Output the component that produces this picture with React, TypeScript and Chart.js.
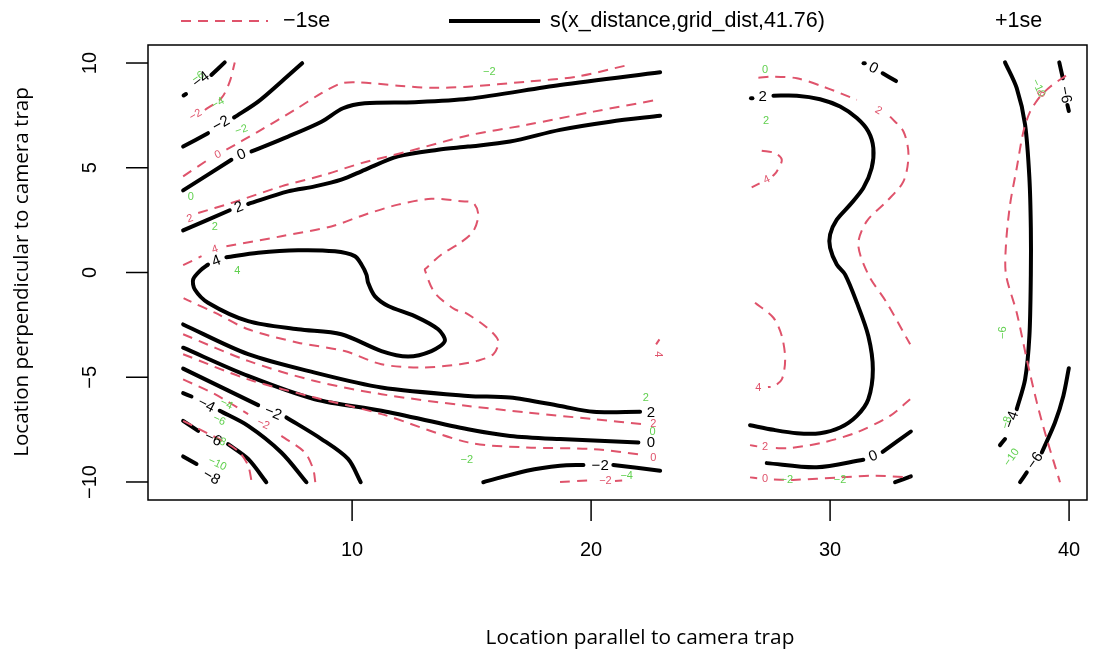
import React, { useEffect, useRef } from "react";
import { Chart, registerables } from "chart.js";

Chart.register(...registerables);

type Pt = [number, number];
// x, y, text, rotation (deg)
type Lbl = [number, number, string, number];

const xTicks = [10, 20, 30, 40];
const yTicks = [-10, -5, 0, 5, 10];
const xRange = [1.46, 40.75];
const yRange = [-10.86, 10.86];

const legendItems = ["\u22121se", "s(x_distance,grid_dist,41.76)", "+1se"];
const xTitle = "Location parallel to camera trap";
const yTitle = "Location perpendicular to camera trap";

// ---- estimate (black, solid) contours: left block x 3..23 ----
const fitLeftUpper: Pt[][] = [
  [[2.95, 8.45], [3.05, 8.52]],
  [[4.11, 9.43], [4.67, 10.03]],
  [[2.93, 6.01], [3.97, 6.65]],
  [[5.06, 7.4], [6.07, 8.16], [7.04, 9.11], [7.91, 9.99]],
  [[2.93, 3.92], [4.95, 5.38]],
  [[5.79, 5.78], [7.32, 6.49], [8.72, 7.2], [9.62, 7.84], [10.53, 8.08], [12.62, 8.13], [14.85, 8.29], [18.7, 8.95], [22.89, 9.56]],
  [[2.93, 2.01], [4.88, 2.97]],
  [[5.65, 3.27], [7.32, 3.87], [8.44, 4.11], [9.55, 4.43], [10.53, 4.9], [11.92, 5.54], [13.6, 5.86], [14.85, 6.01], [16.61, 6.25], [18.7, 6.81], [20.8, 7.2], [22.89, 7.48]],
];
const fitLeftLoop: Pt[] = [
  [4.74, 0.73], [6.07, 0.94], [7.74, 1.06], [9.28, 1.01], [10.11, 0.78], [10.39, 0.38], [10.6, -0.1], [10.67, -0.49],
  [10.95, -1.13], [11.51, -1.6], [12.62, -2.08], [13.6, -2.71], [13.88, -3.27], [13.32, -3.75], [12.34, -4.01],
  [11.23, -3.75], [9.55, -2.95], [7.74, -2.71], [5.65, -2.32], [3.97, -1.44], [3.42, -0.81], [3.35, -0.33],
  [3.69, 0.14], [3.97, 0.38],
];
const fitLeftLower: Pt[][] = [
  [[2.93, -2.48], [5.65, -3.9], [8.44, -4.78], [11.23, -5.49], [14.85, -5.89], [16.61, -5.97], [18.7, -6.37], [20.1, -6.65], [22.05, -6.65]],
  [[2.93, -3.59], [5.65, -4.94], [8.44, -6.05], [11.23, -6.6], [14.85, -7.48], [16.61, -7.8], [18.7, -7.95], [21.98, -8.11]],
  [[2.93, -4.59], [6.07, -6.33]],
  [[7.25, -6.92], [8.72, -7.95], [9.83, -8.9], [10.36, -10.01]],
  [[2.93, -5.76], [3.28, -5.92]],
  [[4.46, -6.6], [5.65, -7.32], [7.04, -8.59], [8.09, -10.01]],
  [[2.93, -7.08], [3.56, -7.56]],
  [[4.81, -8.19], [5.65, -8.9], [6.41, -10.01]],
  [[2.93, -8.78], [3.49, -9.14]],
  [[15.49, -10.01], [17.31, -9.46], [18.7, -9.22], [19.68, -9.19]],
  [[20.93, -9.19], [22.89, -9.46]],
];
// ---- estimate contours: middle block x 27..33.4 ----
const fitMiddle: Pt[][] = [
  [[26.69, 8.32], [26.75, 8.32]],
  [[27.63, 8.44], [28.61, 8.44], [29.58, 8.27], [30.42, 7.92], [31.12, 7.37], [31.6, 6.73], [31.81, 5.94], [31.74, 4.99],
   [31.39, 4.03], [30.84, 3.24], [30.28, 2.52], [30.0, 1.81], [30.0, 1.18], [30.28, 0.38], [30.63, -0.1], [31.12, -1.44],
   [31.6, -3.03], [31.79, -4.62], [31.6, -6.05], [31.12, -6.84], [30.42, -7.4], [29.58, -7.67], [28.61, -7.67],
   [27.63, -7.51], [26.65, -7.29]],
  [[31.4, 9.99], [31.45, 9.99]],
  [[32.2, 9.51], [32.76, 9.14]],
  [[27.35, -9.1], [29.44, -9.3], [31.39, -8.94]],
  [[32.2, -8.56], [33.38, -7.59]],
  [[32.72, -10.01], [33.38, -9.73]],
];
// ---- estimate contours: right block x 37..40 ----
const fitRight: Pt[][] = [
  [[37.32, 10.03], [37.81, 8.8], [38.16, 7.05], [38.34, 4.51], [38.4, 2.13], [38.4, -0.1], [38.34, -3.03], [38.16, -5.1], [37.81, -6.52]],
  [[37.32, -7.95], [37.11, -8.24]],
  [[39.59, 10.03], [39.74, 9.27]],
  [[39.93, 8.0], [39.99, 7.71]],
  [[39.99, -4.57], [39.76, -5.89], [39.41, -7.16], [38.86, -8.59]],
  [[38.23, -9.54], [37.95, -10.01]],
];

// ---- -1se (red, dashed) contours ----
const seLeft: Pt[][] = [
  [[3.84, 7.76], [4.53, 8.32], [4.88, 9.11], [5.09, 10.03]],
  [[2.93, 4.59], [3.97, 5.38]],
  [[4.74, 5.86], [6.07, 6.73], [7.6, 7.76], [8.72, 8.56], [9.55, 9.03], [10.25, 9.08], [11.92, 8.92], [13.32, 8.82], [14.85, 8.87], [17.31, 9.11], [19.4, 9.35], [21.42, 9.87]],
  [[3.56, 2.84], [4.95, 3.32], [7.04, 4.11], [8.86, 4.67], [10.39, 5.22], [12.34, 5.78], [14.85, 6.54], [17.31, 7.05], [20.1, 7.68], [22.75, 8.24]],
  [[2.93, 0.35], [3.7, 0.78]],
  [[4.74, 1.25], [7.04, 1.73], [9.13, 2.2], [10.53, 2.76], [11.92, 3.24], [13.32, 3.52], [14.57, 3.4], [15.07, 3.32], [15.28, 2.76],
   [15.07, 1.97], [14.52, 1.41], [13.74, 0.86], [13.11, 0.22], [13.04, 0.14], [13.46, -0.97], [14.3, -1.76], [14.73, -1.92],
   [15.64, -2.63], [16.12, -3.27], [15.91, -3.9], [15.22, -4.22], [14.52, -4.38], [12.9, -4.54], [11.23, -4.38], [9.69, -3.75],
   [7.74, -3.35], [5.65, -2.71], [4.26, -1.92], [3.21, -1.37], [2.95, -1.22]],
  [[2.93, -2.95], [5.65, -4.22], [8.44, -5.18], [11.23, -5.81], [14.85, -6.37], [17.31, -6.68], [20.1, -7.0], [22.19, -7.24]],
  [[2.93, -3.9], [5.65, -5.1], [8.44, -5.97], [11.23, -6.76], [14.85, -8.11], [17.31, -8.35], [20.1, -8.43], [22.19, -8.71]],
  [[2.93, -5.1], [4.26, -5.81], [5.65, -6.76]],
  [[7.04, -7.8], [8.02, -8.59], [8.37, -9.38], [8.46, -10.01]],
  [[2.93, -7.08], [3.56, -7.45], [4.81, -8.19], [5.3, -8.6], [5.65, -9.22], [5.8, -10.01]],
  [[18.7, -10.0], [19.9, -9.92]],
  [[21.0, -9.95], [21.3, -9.93]],
  [[22.86, -3.19], [22.72, -3.43]],
];
const seMiddle: Pt[][] = [
  [[27.0, 9.3], [27.63, 9.35], [28.61, 9.27], [29.72, 8.87], [31.12, 8.24]],
  [[32.51, 7.44], [33.07, 6.73], [33.28, 5.62], [33.07, 4.35], [32.37, 3.4], [31.53, 2.44], [31.18, 1.33], [31.6, -0.1], [32.37, -1.44], [33.35, -3.43]],
  [[33.35, -6.05], [32.51, -6.84], [31.12, -7.63], [29.72, -8.11], [28.33, -8.38], [27.63, -8.38]],
  [[26.65, -8.24], [26.95, -8.3]],
  [[26.65, -9.78], [26.95, -9.82]],
  [[27.65, -9.88], [28.46, -9.9], [30.42, -9.78], [31.81, -9.7], [33.35, -9.78]],
  [[27.14, 5.81], [27.7, 5.7], [27.98, 5.38], [27.77, 4.82], [27.6, 4.6]],
  [[27.05, 4.25], [26.72, 4.06]],
  [[26.86, -1.44], [27.63, -2.16], [27.98, -3.03], [28.12, -4.14], [27.98, -5.1], [27.63, -5.44], [27.4, -5.47]],
];
const seRight: Pt[][] = [
  [[39.87, 9.4], [39.21, 8.87], [38.79, 8.4], [38.37, 7.68], [38.09, 6.73], [37.81, 4.99], [37.53, 3.24], [37.36, 1.33],
   [37.36, -0.1], [37.81, -1.92], [38.23, -4.14], [38.65, -6.2], [39.07, -7.95], [39.62, -10.01]],
];

// ---- contour labels ----
const fitLabels: Lbl[] = [
  [3.68, 9.2, "\u22124", -37], [4.52, 7.1, "\u22122", -30], [5.37, 5.62, "0", -22], [5.26, 3.11, "2", -21],
  [4.32, 0.54, "4", -21], [3.9, -6.33, "\u22124", 27], [6.69, -6.71, "\u22122", 23], [4.18, -7.95, "\u22126", 25],
  [4.11, -9.78, "\u22128", 30], [22.5, -6.68, "2", 0], [22.5, -8.14, "0", 0], [20.38, -9.22, "\u22122", 0],
  [27.18, 8.37, "2", 0], [31.81, 9.75, "0", 28], [31.81, -8.78, "0", -22], [39.83, 8.48, "\u22126", 80],
  [37.6, -7.03, "\u22124", -70], [38.58, -8.99, "\u22126", -55],
];
const seLabels: Lbl[] = [
  [3.45, 7.52, "\u22122", -30], [4.39, 5.62, "0", -25], [3.22, 2.57, "2", -18], [4.26, 1.1, "4", -18],
  [6.28, -7.24, "\u22122", 25], [22.6, -7.24, "2", 0], [22.6, -8.83, "0", 0], [20.6, -9.97, "\u22122", 0],
  [22.82, -3.9, "4", 90], [32.02, 7.73, "2", 30], [27.28, -8.35, "2", 0], [27.28, -9.86, "0", 0],
  [27.35, 4.43, "4", -25], [27.0, -5.49, "4", 0], [38.79, 8.4, "\u22128", -60],
];
const plusSeLabels: Lbl[] = [
  [3.56, 9.32, "\u22126", -35], [4.39, 8.08, "\u22124", -30], [5.37, 6.81, "\u22122", -20], [3.25, 3.59, "0", 0],
  [4.26, 2.16, "2", 0], [5.2, 0.06, "4", 0], [15.74, 9.59, "\u22122", 0], [27.28, 9.67, "0", 0], [27.32, 7.24, "2", 0],
  [38.72, 8.8, "\u221210", 65], [4.74, -6.29, "\u22124", 25], [4.44, -7.05, "\u22126", 25], [4.46, -8.03, "\u22128", 25],
  [4.36, -9.14, "\u221210", 25], [14.8, -8.94, "\u22122", 0], [22.29, -6.01, "2", 0], [22.57, -7.63, "0", 0],
  [21.49, -9.73, "\u22124", 0], [28.19, -9.89, "\u22122", 0], [30.42, -9.89, "\u22122", 0], [37.25, -2.87, "\u22126", -90],
  [37.39, -7.16, "\u22128", -75], [37.6, -8.83, "\u221210", -55],
];

const BLACK = "#000000";
const RED = "#DF536B";
const GREEN = "#61D04F";
const FONT = '"Liberation Sans", Arial, Helvetica, sans-serif';
const TITLE_FONT = '"Open Sans", "Noto Sans", sans-serif';

function toData(seg: Pt[]) {
  return seg.map(([x, y]) => ({ x, y }));
}

function fitFont(ctx: CanvasRenderingContext2D, text: string, family: string, width: number) {
  ctx.font = `20px ${family}`;
  const w = ctx.measureText(text).width || 1;
  ctx.font = `${(20 * width) / w}px ${family}`;
}

export default function App() {
  const ref = useRef<HTMLCanvasElement | null>(null);

  useEffect(() => {
    if (!ref.current) return;
    const fitSegs = [...fitLeftUpper, fitLeftLoop, ...fitLeftLower, ...fitMiddle, ...fitRight];
    const seSegs = [...seLeft, ...seMiddle, ...seRight];
    const datasets: any[] = [];
    seSegs.forEach((s) =>
      datasets.push({
        data: toData(s),
        showLine: true,
        borderColor: RED,
        borderWidth: 2,
        borderDash: [10, 7],
        pointRadius: 0,
        tension: 0.3,
        fill: false,
      })
    );
    fitSegs.forEach((s) =>
      datasets.push({
        data: toData(s),
        showLine: true,
        borderColor: BLACK,
        borderWidth: 4,
        borderCapStyle: "round",
        borderJoinStyle: "round",
        pointRadius: 0,
        tension: 0.3,
        fill: false,
      })
    );

    const overlay = {
      id: "overlay",
      afterDatasetsDraw(chart: any) {
        const { ctx, scales } = chart;
        const xs = scales.x;
        const ys = scales.y;
        const drawLabels = (list: Lbl[], color: string, size: number) => {
          ctx.save();
          ctx.fillStyle = color;
          ctx.font = `${size}px ${FONT}`;
          ctx.textAlign = "center";
          ctx.textBaseline = "middle";
          list.forEach(([x, y, t, r]) => {
            ctx.save();
            ctx.translate(xs.getPixelForValue(x), ys.getPixelForValue(y));
            ctx.rotate((r * Math.PI) / 180);
            ctx.fillText(t, 0, 0);
            ctx.restore();
          });
          ctx.restore();
        };
        drawLabels(plusSeLabels, GREEN, 11);
        drawLabels(seLabels, RED, 11);
        drawLabels(fitLabels, BLACK, 15);
      },
      afterDraw(chart: any) {
        const { ctx, chartArea: a, scales } = chart;
        const xs = scales.x;
        const ys = scales.y;
        ctx.save();
        ctx.strokeStyle = BLACK;
        ctx.lineWidth = 1.5;
        ctx.setLineDash([]);
        ctx.strokeRect(a.left, a.top, a.right - a.left, a.bottom - a.top);
        ctx.fillStyle = BLACK;
        ctx.font = `20px ${FONT}`;
        ctx.textAlign = "center";
        ctx.textBaseline = "middle";
        xTicks.forEach((v) => {
          const px = xs.getPixelForValue(v);
          ctx.beginPath();
          ctx.moveTo(px, a.bottom);
          ctx.lineTo(px, a.bottom + 21);
          ctx.stroke();
          ctx.fillText(String(v), px, 550);
        });
        yTicks.forEach((v) => {
          const py = ys.getPixelForValue(v);
          ctx.beginPath();
          ctx.moveTo(a.left - 22, py);
          ctx.lineTo(a.left, py);
          ctx.stroke();
          ctx.save();
          ctx.translate(90, py);
          ctx.rotate(-Math.PI / 2);
          ctx.fillText(v < 0 ? "\u2212" + Math.abs(v) : String(v), 0, 0);
          ctx.restore();
        });
        // axis titles
        fitFont(ctx, xTitle, TITLE_FONT, 309);
        ctx.fillText(xTitle, 640, 638);
        ctx.save();
        fitFont(ctx, yTitle, TITLE_FONT, 370);
        ctx.translate(22, 272);
        ctx.rotate(-Math.PI / 2);
        ctx.fillText(yTitle, 0, 0);
        ctx.restore();
        // legend
        ctx.font = `21.5px ${FONT}`;
        ctx.textAlign = "left";
        ctx.strokeStyle = RED;
        ctx.lineWidth = 2;
        ctx.setLineDash([10, 7]);
        ctx.beginPath();
        ctx.moveTo(181, 21);
        ctx.lineTo(268, 21);
        ctx.stroke();
        ctx.setLineDash([]);
        ctx.fillText(legendItems[0], 283, 21);
        ctx.strokeStyle = BLACK;
        ctx.lineWidth = 4;
        ctx.beginPath();
        ctx.moveTo(449, 21);
        ctx.lineTo(540, 21);
        ctx.stroke();
        ctx.fillText(legendItems[1], 550, 21);
        ctx.fillText(legendItems[2], 995, 21);
        ctx.restore();
      },
    };

    const chart = new Chart(ref.current, {
      type: "scatter",
      data: { datasets },
      options: {
        animation: false,
        responsive: false,
        layout: { padding: { left: 148, right: 7, top: 45, bottom: 157 } },
        plugins: { legend: { display: false }, tooltip: { enabled: false } },
        scales: {
          x: { type: "linear", min: xRange[0], max: xRange[1], display: false },
          y: { type: "linear", min: yRange[0], max: yRange[1], display: false },
        },
      },
      plugins: [overlay],
    } as any);
    return () => chart.destroy();
  }, []);

  return (
    <div style={{ position: "fixed", left: 0, top: 0, width: 1094, height: 657, background: "#fff" }}>
      <canvas ref={ref} width={1094} height={657} style={{ display: "block" }} />
    </div>
  );
}
